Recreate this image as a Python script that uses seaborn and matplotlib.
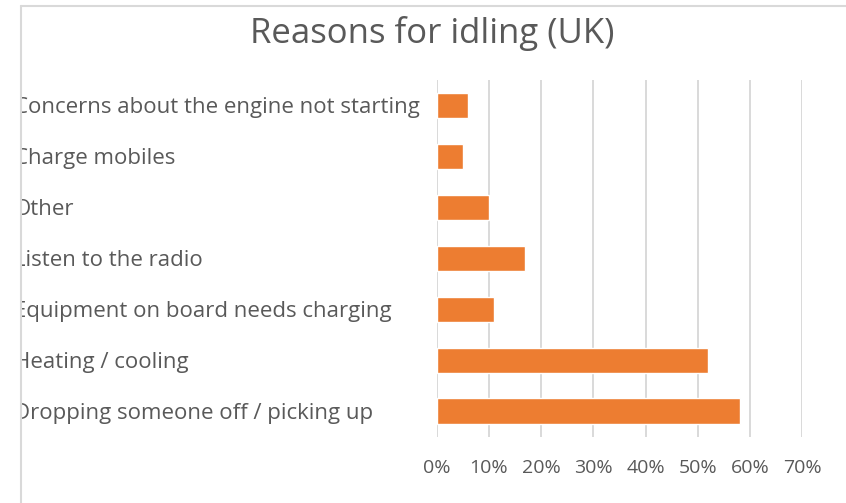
import matplotlib
matplotlib.use("Agg")
import matplotlib.pyplot as plt
from matplotlib.patches import Rectangle
from matplotlib.lines import Line2D
from matplotlib.ticker import FixedLocator
import seaborn as sns
import pandas as pd

# Survey results: share of drivers giving each reason for idling
reasons = [
    "Concerns about the engine not starting",
    "Charge mobiles",
    "Other",
    "Listen to the radio",
    "Equipment on board needs charging",
    "Heating / cooling",
    "Dropping someone off / picking up",
]
shares = [6, 5, 10, 17, 11, 52, 58]
tick_values = [0, 10, 20, 30, 40, 50, 60, 70]
tick_labels = ["0%", "10%", "20%", "30%", "40%", "50%", "60%", "70%"]

df = pd.DataFrame({"reason": reasons, "share": shares})

sns.set_theme(style="white")
plt.rcParams["font.family"] = ["Open Sans", "DejaVu Sans"]

W, H, DPI = 846, 503, 100
fig = plt.figure(figsize=(W / DPI, H / DPI), dpi=DPI)
fig.patch.set_facecolor("white")

left, right = 436.7 / W, 802.3 / W
top, bottom = 1 - 80 / H, 1 - 436.7 / H
ax = fig.add_axes([left, bottom, right - left, top - bottom])

sns.barplot(data=df, y="reason", x="share", orient="h", color="#ED7D31",
            saturation=1, width=0.5, ax=ax)

ax.set_xlim(0, 70)
ax.set_ylim(len(reasons) - 0.5, -0.5)
ax.xaxis.set_major_locator(FixedLocator(tick_values))
ax.set_xticklabels(tick_labels)
ax.grid(axis="x", color="#d9d9d9", linewidth=1.4)
ax.grid(axis="y", visible=False)
ax.set_axisbelow(True)
for s in ax.spines.values():
    s.set_visible(False)
ax.set_xlabel("")
ax.set_ylabel("")

text_color = "#595959"
ax.tick_params(axis="x", length=0, pad=16, labelsize=14, labelcolor=text_color)
# category labels start near the left edge of the figure, left-aligned
label_pad = (436.7 - 14) * 72 / DPI
ax.tick_params(axis="y", length=0, pad=label_pad, labelsize=16, labelcolor=text_color)
for lbl in ax.get_yticklabels():
    lbl.set_horizontalalignment("left")

fig.text(432 / W, 1 - 33 / H, "Reasons for idling (UK)", ha="center", va="center",
         fontsize=25, color=text_color)

# chart-area frame: white margin with a thin grey edge
fx, fy = 21 / W, 1 - 6 / H
fig.add_artist(Rectangle((0, 0), fx, 1, transform=fig.transFigure,
                         facecolor="white", edgecolor="none", zorder=10))
fig.add_artist(Rectangle((0, fy), 1, 1 - fy, transform=fig.transFigure,
                         facecolor="white", edgecolor="none", zorder=10))
fig.add_artist(Line2D([fx, fx], [0, fy], transform=fig.transFigure,
                      color="#d9d9d9", linewidth=1.5, zorder=11))
fig.add_artist(Line2D([fx, 1], [fy, fy], transform=fig.transFigure,
                      color="#d9d9d9", linewidth=1.5, zorder=11))

fig.savefig("out.png", dpi=DPI)
